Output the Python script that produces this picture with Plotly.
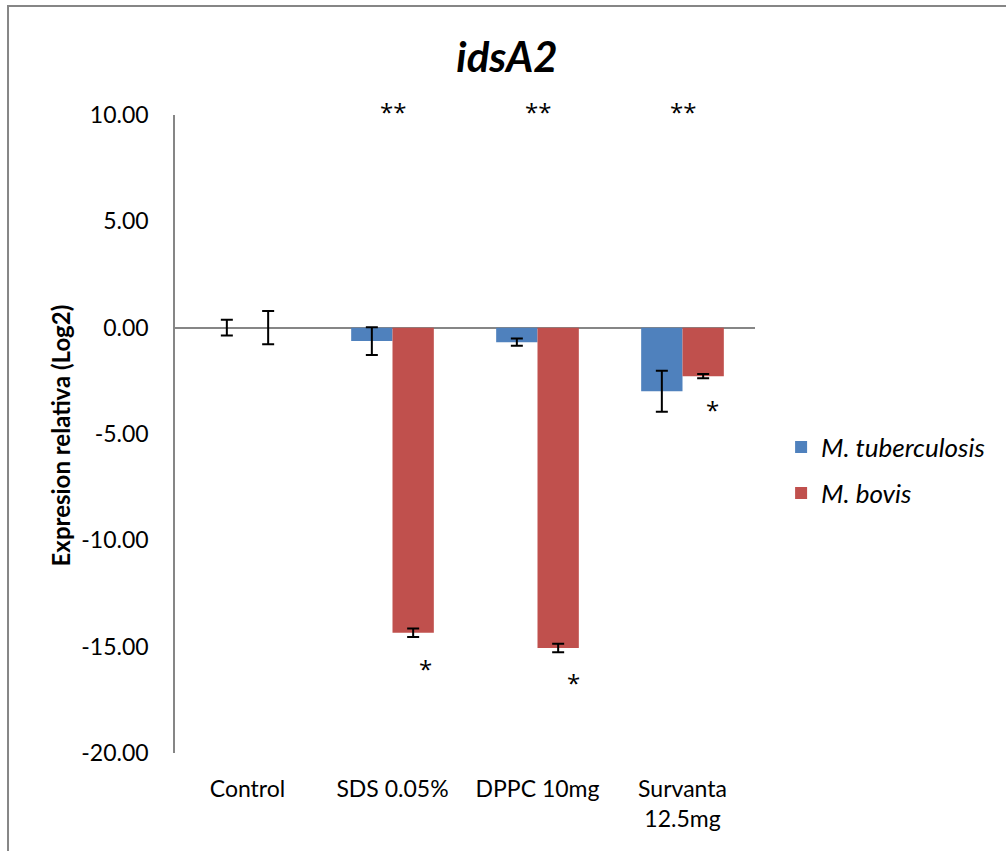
import plotly.graph_objects as go

# Treatments on the x axis
categories = ["Control", "SDS 0.05%", "DPPC 10mg", "Survanta<br>12.5mg"]

# Relative expression (log2) and standard errors
tb_values = [0.0, -0.63, -0.68, -2.99]
tb_errors = [0.37, 0.65, 0.17, 0.96]
bovis_values = [0.0, -14.35, -15.06, -2.28]
bovis_errors = [0.78, 0.2, 0.2, 0.1]

# Significance marks
double_star_cats = ["SDS 0.05%", "DPPC 10mg", "Survanta<br>12.5mg"]
double_star_y = [10.0, 10.0, 10.0]
single_star_cats = ["SDS 0.05%", "DPPC 10mg", "Survanta<br>12.5mg"]
single_star_y = [-15.95, -16.6, -3.77]
single_star_xshift = [33, 36, 30]

y_ticks = [10, 5, 0, -5, -10, -15, -20]
y_tick_text = ["10.00", "5.00", "0.00", "-5.00", "-10.00", "-15.00", "-20.00"]

FONT = "Lato, 'Open Sans', sans-serif"
STAR_FONT = "'Open Sans', sans-serif"
BLUE = "#4F81BD"
RED = "#C0504D"
GRAY = "#868686"

fig = go.Figure()
fig.add_trace(go.Bar(
    x=categories, y=tb_values, name="<i>M. tuberculosis</i>",
    marker=dict(color=BLUE, line=dict(width=0)),
    error_y=dict(type="data", array=tb_errors, color="black", thickness=2, width=6),
    legend="legend", showlegend=True,
))
fig.add_trace(go.Bar(
    x=categories, y=bovis_values, name="<i>M. bovis</i>",
    marker=dict(color=RED, line=dict(width=0)),
    error_y=dict(type="data", array=bovis_errors, color="black", thickness=2, width=6),
    legend="legend2", showlegend=True,
))

annotations = []
for c, y in zip(double_star_cats, double_star_y):
    annotations.append(dict(x=c, y=y, xref="x", yref="y", text="**", showarrow=False,
                            font=dict(family=STAR_FONT, size=24, color="black"),
                            xanchor="center", yanchor="middle", yshift=4))
for c, y, dx in zip(single_star_cats, single_star_y, single_star_xshift):
    annotations.append(dict(x=c, y=y, xref="x", yref="y", text="*", showarrow=False,
                            font=dict(family=STAR_FONT, size=24, color="black"),
                            xanchor="center", yanchor="middle", xshift=dx, yshift=-2))
annotations.append(dict(x=-0.198, y=0.498, xref="paper", yref="paper",
                        text="<b>Expresion relativa (Log2)</b>", textangle=-90,
                        showarrow=False, font=dict(family=FONT, size=24, color="black"),
                        xanchor="center", yanchor="middle"))

fig.update_layout(
    width=1006, height=851,
    margin=dict(l=175, r=251, t=115, b=98),
    paper_bgcolor="white", plot_bgcolor="white",
    font=dict(family=FONT, color="black"),
    showlegend=True,
    title=dict(text="<b><i>idsA2</i></b>", x=0.504, y=0.933, xref="container", yref="container",
               xanchor="center", yanchor="middle", font=dict(family=FONT, size=42, color="black")),
    barmode="group", bargap=0.43, bargroupgap=0,
    xaxis=dict(showline=False, showgrid=False, zeroline=False, ticks="",
               tickfont=dict(family=FONT, size=23, color="black"), ticklabelstandoff=20),
    yaxis=dict(range=[-20, 10], tickvals=y_ticks, ticktext=y_tick_text,
               showline=True, linecolor=GRAY, linewidth=1.5, showgrid=False,
               zeroline=True, zerolinecolor=GRAY, zerolinewidth=1.5, ticks="",
               tickfont=dict(family=FONT, size=23, color="black"), ticklabelstandoff=20),
    legend=dict(x=1.045, y=0.4796, xanchor="left", yanchor="middle",
                font=dict(family=FONT, size=26, color="black"), bgcolor="rgba(0,0,0,0)"),
    legend2=dict(x=1.045, y=0.4075, xanchor="left", yanchor="middle",
                 font=dict(family=FONT, size=26, color="black"), bgcolor="rgba(0,0,0,0)"),
    annotations=annotations,
    shapes=[dict(type="rect", xref="paper", yref="paper",
                 x0=-0.2879, y0=-0.3, x1=1.6, y1=1.1708,
                 line=dict(color=GRAY, width=2), fillcolor="rgba(0,0,0,0)", layer="below")],
)

fig.write_html("out.html")
